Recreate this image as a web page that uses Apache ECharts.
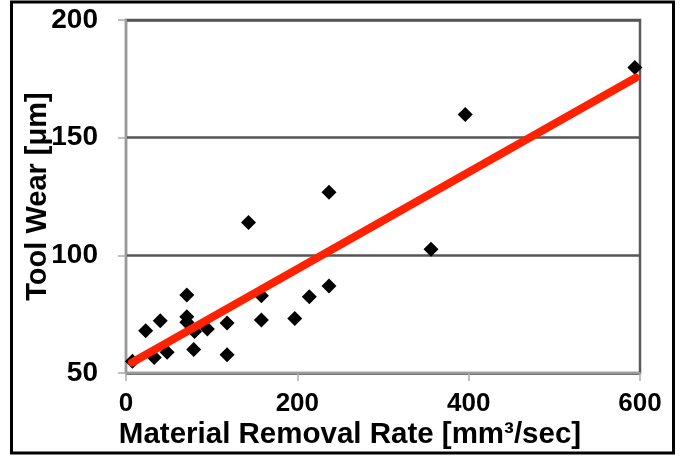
<!DOCTYPE html>
<html>
<head>
<meta charset="utf-8">
<script src="https://cdn.jsdelivr.net/npm/echarts@6/dist/echarts.min.js"></script>
<style>
  html, body { margin: 0; padding: 0; background: #fff; }
  #chart { width: 682px; height: 458px; }
</style>
</head>
<body>
<div id="chart"></div>
<script>
var removalRate = [7.5, 23, 33, 40, 48, 71, 71, 71, 80, 79, 95, 118, 118, 143, 158, 158, 197, 214, 237, 237, 356, 396, 594];
var toolWear = [55, 68, 56.6, 72.2, 58.8, 83.1, 73.9, 71.6, 67.6, 60, 68.7, 71.2, 57.8, 113.9, 82.8, 72.5, 73.2, 82.4, 126.8, 87, 102.6, 159.8, 179.8];

// linear fit drawn as a straight line between two ends
var fitX = [7, 595];
var fitY = [54.5, 175.5];

var font = 'Liberation Sans, Arial, sans-serif';

var points = [];
for (var i = 0; i < removalRate.length; i++) {
	points.push([removalRate[i], toolWear[i]]);
}
var fitLine = [];
for (var j = 0; j < fitX.length; j++) {
	fitLine.push([fitX[j], fitY[j]]);
}

var chart = echarts.init(document.getElementById('chart'));
var option = {
	backgroundColor: '#fff',
	animation: false,
	grid: {
		left: 126,
		top: 20,
		width: 514,
		height: 353,
		show: true,
		borderColor: '#5a5a5a',
		borderWidth: 2.5,
		backgroundColor: 'transparent'
	},
	graphic: [{
		type: 'rect',
		shape: { x: 11.5, y: 2, width: 662, height: 451 },
		style: { fill: 'none', stroke: '#000', lineWidth: 3 },
		silent: true
	}],
	xAxis: {
		type: 'value',
		min: 0,
		max: 600,
		interval: 200,
		name: 'Material Removal Rate [mm³/sec]',
		nameLocation: 'middle',
		nameGap: 47,
		nameMoveOverlap: false,
		nameTextStyle: {
			color: '#000',
			fontSize: 29.5,
			fontWeight: 'bold',
			fontFamily: font,
			padding: [0, 66, 0, 0]
		},
		axisLine: { show: true, lineStyle: { color: '#999', width: 2 } },
		axisTick: { show: true, inside: false, length: 8, lineStyle: { color: '#aaa', width: 1.5 } },
		axisLabel: {
			margin: 18,
			color: '#000',
			fontSize: 26,
			fontWeight: 'bold',
			fontFamily: font
		},
		splitLine: { show: false }
	},
	yAxis: {
		type: 'value',
		min: 50,
		max: 200,
		interval: 50,
		name: 'Tool Wear [μm]',
		nameLocation: 'middle',
		nameGap: 74,
		nameMoveOverlap: false,
		nameTextStyle: {
			color: '#000',
			fontSize: 29,
			fontWeight: 'bold',
			fontFamily: font
		},
		axisLine: { show: true, lineStyle: { color: '#999', width: 2 } },
		axisTick: { show: true, inside: false, length: 8, lineStyle: { color: '#aaa', width: 1.5 } },
		axisLabel: {
			margin: 28,
			color: '#000',
			fontSize: 28,
			fontWeight: 'bold',
			fontFamily: font
		},
		splitLine: { show: true, lineStyle: { color: '#555', width: 2.5 } }
	},
	series: [{
		name: 'data',
		type: 'scatter',
		symbol: 'diamond',
		symbolSize: 15,
		itemStyle: { color: '#000', opacity: 1 },
		data: points
	}, {
		name: 'fit',
		type: 'line',
		showSymbol: false,
		symbol: 'none',
		lineStyle: { color: '#ff2200', width: 8, cap: 'round' },
		data: fitLine,
		z: 3
	}]
};
chart.setOption(option);
</script>
</body>
</html>
